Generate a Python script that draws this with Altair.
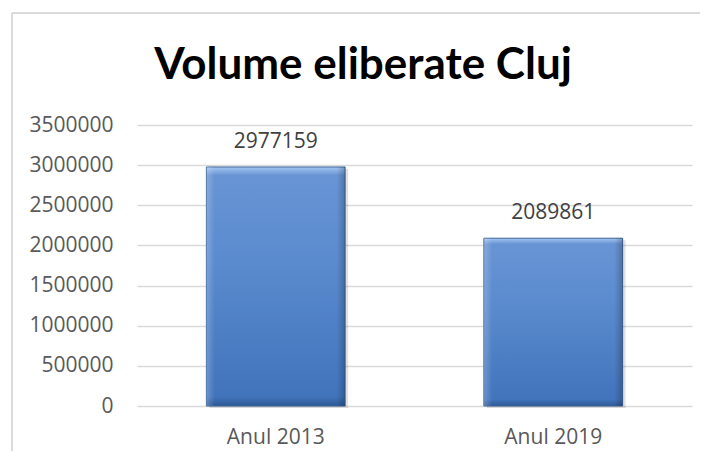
import altair as alt
import pandas as pd

categories = ["Anul 2013", "Anul 2019"]
values = [2977159, 2089861]
y_ticks = [0, 500000, 1000000, 1500000, 2000000, 2500000, 3000000, 3500000]
title_text = "Volume eliberate Cluj"

df = pd.DataFrame({"an": categories, "volume": values})

W, H = 555, 281
FONT = "Open Sans"
FS = 21

frame_left = alt.Chart(df).mark_rule(
    color="#D9D9D9", strokeWidth=1.5, clip=False
).encode(x=alt.value(-125), y=alt.value(-112), y2=alt.value(H + 200))

frame_top = alt.Chart(df).mark_rule(
    color="#D9D9D9", strokeWidth=1.5, clip=False
).encode(x=alt.value(-125), x2=alt.value(W + 200), y=alt.value(-112))

title = alt.Chart(pd.DataFrame({"t": [title_text]})).mark_text(
    font="Lato", fontSize=44, fontWeight="bold", color="#000000",
    align="center", baseline="alphabetic",
).encode(x=alt.value(226), y=alt.value(-46), text="t:N")

x_enc = alt.X(
    "an:N", sort=categories, title=None,
    scale=alt.Scale(paddingInner=0.5, paddingOuter=0.25),
    axis=alt.Axis(labelAngle=0, labelAlign="center", labelFont=FONT, labelFontSize=FS,
                  labelColor="#595959", labelPadding=20, ticks=False, tickSize=0,
                  domain=False, grid=False),
)
y_enc = alt.Y(
    "volume:Q", title=None,
    scale=alt.Scale(domain=[0, 3500000], nice=False),
    axis=alt.Axis(values=y_ticks, format="d", labelFont=FONT, labelFontSize=FS,
                  labelColor="#595959", labelPadding=24, ticks=False, tickSize=0,
                  domain=False, grid=True, gridColor="#D9D9D9", gridWidth=1.3),
)

shadow = alt.Chart(df).mark_bar(
    color="#000000", opacity=0.12, xOffset=3, yOffset=2
).encode(x=x_enc, y=y_enc)

bars = alt.Chart(df).mark_bar(
    color=alt.Gradient(
        gradient="linear", x1=0, x2=0, y1=0, y2=1,
        stops=[
            alt.GradientStop(color="#A4C6F0", offset=0),
            alt.GradientStop(color="#6894D4", offset=0.035),
            alt.GradientStop(color="#5A8BCE", offset=0.4),
            alt.GradientStop(color="#4274BC", offset=0.96),
            alt.GradientStop(color="#2E5A96", offset=1),
        ],
    ),
    stroke="#3A6399", strokeWidth=1,
).encode(x=alt.X("an:N", sort=categories), y=alt.Y("volume:Q"))

bevel = alt.Chart(df).mark_bar(
    color=alt.Gradient(
        gradient="linear", x1=0, x2=1, y1=0, y2=0,
        stops=[
            alt.GradientStop(color="rgba(255,255,255,0.22)", offset=0),
            alt.GradientStop(color="rgba(255,255,255,0)", offset=0.06),
            alt.GradientStop(color="rgba(0,0,0,0)", offset=0.94),
            alt.GradientStop(color="rgba(0,0,0,0.22)", offset=1),
        ],
    ),
).encode(x=alt.X("an:N", sort=categories), y=alt.Y("volume:Q"))

labels = alt.Chart(df).mark_text(
    font=FONT, fontSize=FS, color="#404040", baseline="alphabetic", dy=-19
).encode(
    x=alt.X("an:N", sort=categories),
    y=alt.Y("volume:Q"),
    text=alt.Text("volume:Q", format="d"),
)

chart = alt.layer(shadow, bars, bevel, labels, title, frame_left, frame_top).properties(
    width=W, height=H, background="white",
    autosize=alt.AutoSizeParams(type="none"),
    padding={"left": 129, "top": 117, "right": 8, "bottom": 45},
).configure_view(stroke=None)

chart.save("out.html", embed_options={"renderer": "svg", "actions": False})
